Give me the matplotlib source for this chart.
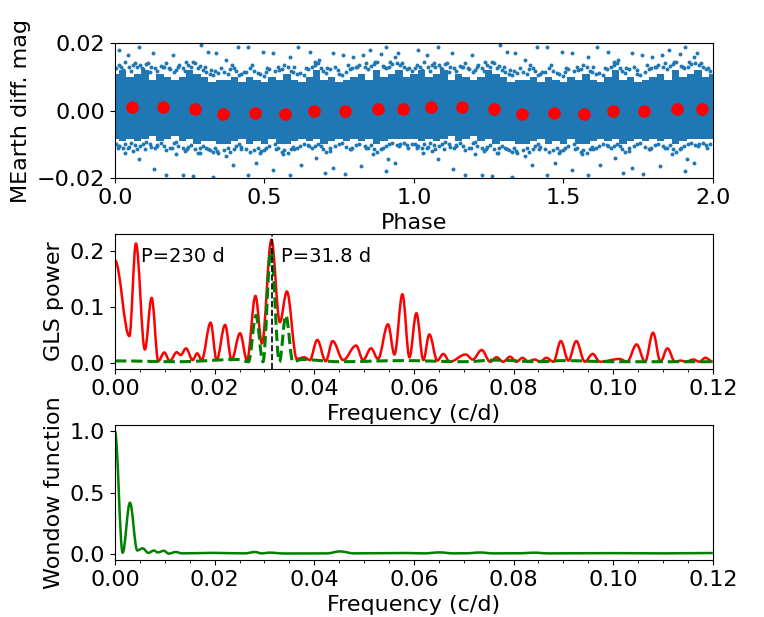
import matplotlib
matplotlib.use('Agg')
import matplotlib.pyplot as plt
from matplotlib.path import Path
from matplotlib.patches import PathPatch
from matplotlib.ticker import MultipleLocator

plt.rcParams['font.size'] = 16

# --- light curve (phase 0..1, repeated at phase+1) ---
env_phase = [0.0, 0.025, 0.05, 0.075, 0.1, 0.125, 0.15, 0.175, 0.2, 0.225,
             0.25, 0.275, 0.3, 0.325, 0.35, 0.375, 0.4, 0.425, 0.45, 0.475,
             0.5, 0.525, 0.55, 0.575, 0.6, 0.625, 0.65, 0.675, 0.7, 0.725,
             0.75, 0.775, 0.8, 0.825, 0.85, 0.875, 0.9, 0.925, 0.95, 0.975, 1.0]
env_hi = [0.011, 0.012, 0.010, 0.011, 0.012, 0.009, 0.011, 0.010, 0.009, 0.010,
          0.012, 0.011, 0.010, 0.0085, 0.009, 0.009, 0.010, 0.0085, 0.010, 0.009,
          0.0085, 0.010, 0.009, 0.011, 0.009, 0.0085, 0.010, 0.012, 0.009, 0.010,
          0.0085, 0.009, 0.010, 0.011, 0.009, 0.012, 0.010, 0.011, 0.012, 0.010, 0.011]
env_lo = [-0.0085, -0.009, -0.0085, -0.009, -0.0085, -0.0075, -0.009, -0.0085, -0.0075, -0.009,
          -0.0085, -0.010, -0.009, -0.009, -0.010, -0.010, -0.009, -0.0085, -0.010, -0.009,
          -0.010, -0.0085, -0.010, -0.010, -0.009, -0.0085, -0.009, -0.0085, -0.010, -0.009,
          -0.0085, -0.009, -0.0085, -0.009, -0.0085, -0.010, -0.009, -0.0085, -0.0085, -0.0085, -0.0085]

# sparse points well outside the dense band
out_phase = [0.080, 0.288, 0.411, 0.445, 0.612, 0.763, 0.829, 0.891, 0.908, 0.015,
             0.043, 0.127, 0.193, 0.238, 0.311, 0.339, 0.372, 0.495, 0.528, 0.584,
             0.651, 0.684, 0.729, 0.796, 0.852, 0.936, 0.947,
             0.009, 0.032, 0.082, 0.132, 0.171, 0.229, 0.261, 0.328, 0.394, 0.445,
             0.473, 0.528, 0.584, 0.623, 0.701, 0.729, 0.768, 0.824, 0.908, 0.936,
             0.060, 0.205, 0.283, 0.372, 0.562, 0.673, 0.863, 0.913,
             0.02, 0.06, 0.09, 0.11, 0.16, 0.18, 0.215, 0.26, 0.30, 0.32,
             0.355, 0.39, 0.43, 0.46, 0.51, 0.55, 0.60, 0.64, 0.67, 0.71,
             0.745, 0.78, 0.81, 0.84, 0.87, 0.90, 0.92, 0.96, 0.985,
             0.015, 0.045, 0.10, 0.14, 0.19, 0.24, 0.31, 0.34, 0.42, 0.49,
             0.54, 0.60, 0.65, 0.72, 0.79, 0.84, 0.89, 0.95, 0.98]
out_mag = [0.0188, 0.0195, 0.0188, 0.0188, 0.019, 0.0165, 0.0165, 0.0168, 0.019, 0.018,
           0.0165, 0.017, 0.0165, 0.0145, 0.0175, 0.017, 0.015, 0.0175, 0.0172, 0.016,
           0.0175, 0.015, 0.017, 0.016, 0.018, 0.016, 0.017,
           -0.011, -0.0125, -0.0145, -0.0172, -0.0192, -0.019, -0.0195, -0.0198, -0.016, -0.019,
           -0.0155, -0.0175, -0.019, -0.016, -0.0185, -0.017, -0.0188, -0.0165, -0.0178, -0.0155,
           -0.012, -0.013, -0.0125, -0.0135, -0.013, -0.014, -0.013, -0.0145,
           0.013, 0.0135, 0.0125, 0.014, 0.013, 0.0125, 0.0135, 0.0145, 0.013, 0.012,
           0.0125, 0.0135, 0.0115, 0.0135, 0.0125, 0.012, 0.013, 0.0125, 0.0145, 0.0125,
           0.012, 0.0135, 0.013, 0.014, 0.0145, 0.013, 0.0145, 0.014, 0.0125,
           -0.0105, -0.011, -0.0115, -0.0105, -0.011, -0.0115, -0.0115, -0.012, -0.0115, -0.012,
           -0.0115, -0.0115, -0.0105, -0.012, -0.0115, -0.011, -0.0115, -0.0105, -0.011]

# ragged points along the edges of the dense band
edge_phase = [0.005, 0.012, 0.028, 0.035, 0.048, 0.055, 0.068, 0.072, 0.085, 0.095,
              0.105, 0.118, 0.122, 0.135, 0.142, 0.155, 0.165, 0.172, 0.185, 0.198,
              0.205, 0.212, 0.228, 0.235, 0.245, 0.255, 0.268, 0.278, 0.285, 0.295,
              0.305, 0.318, 0.328, 0.335, 0.345, 0.365, 0.378, 0.385, 0.398, 0.405,
              0.415, 0.422, 0.438, 0.452, 0.465, 0.478, 0.485, 0.498, 0.505, 0.515,
              0.535, 0.545, 0.558, 0.565, 0.578, 0.588, 0.595, 0.608, 0.618, 0.632,
              0.645, 0.658, 0.668, 0.678, 0.688, 0.695, 0.705, 0.718, 0.735, 0.748,
              0.758, 0.772, 0.785, 0.792, 0.805, 0.818, 0.835, 0.848, 0.858, 0.868,
              0.878, 0.895, 0.905, 0.918, 0.928, 0.942, 0.955, 0.968, 0.978, 0.992]
edge_hi = [0.0125, 0.0135, 0.012, 0.0145, 0.013, 0.0118, 0.014, 0.0128, 0.0135, 0.0122,
           0.0138, 0.0115, 0.013, 0.0125, 0.0118, 0.0132, 0.0128, 0.014, 0.0122, 0.0115,
           0.012, 0.0128, 0.0125, 0.0118, 0.0135, 0.013, 0.0142, 0.0125, 0.0132, 0.012,
           0.0115, 0.011, 0.0105, 0.0118, 0.0112, 0.0115, 0.0108, 0.0122, 0.0125, 0.0118,
           0.0105, 0.011, 0.0115, 0.0125, 0.0118, 0.0112, 0.0108, 0.0102, 0.0115, 0.0122,
           0.0118, 0.0128, 0.0122, 0.0135, 0.013, 0.0118, 0.0115, 0.0108, 0.0112, 0.0105,
           0.0122, 0.0128, 0.0135, 0.014, 0.0125, 0.0118, 0.0112, 0.0122, 0.0128, 0.011,
           0.0105, 0.0115, 0.0122, 0.0125, 0.013, 0.0135, 0.0128, 0.0122, 0.0132, 0.0138,
           0.0145, 0.0132, 0.0125, 0.013, 0.0138, 0.0142, 0.0135, 0.0128, 0.0122, 0.0118]
edge_lo = [-0.0098, -0.0105, -0.0112, -0.01, -0.0108, -0.0095, -0.0102, -0.0115, -0.0105, -0.0098,
           -0.0092, -0.01, -0.0108, -0.0112, -0.0102, -0.0096, -0.0105, -0.0118, -0.011, -0.0095,
           -0.0092, -0.0105, -0.0112, -0.012, -0.0108, -0.0102, -0.0115, -0.0125, -0.0112, -0.0105,
           -0.011, -0.0118, -0.0122, -0.0112, -0.0125, -0.0118, -0.011, -0.0122, -0.0115, -0.0105,
           -0.01, -0.0108, -0.0115, -0.0122, -0.0118, -0.011, -0.0125, -0.0118, -0.0112, -0.0105,
           -0.0098, -0.0112, -0.0122, -0.0118, -0.0125, -0.0115, -0.0108, -0.0112, -0.0105, -0.0098,
           -0.0102, -0.0112, -0.0105, -0.0098, -0.0105, -0.0115, -0.0122, -0.0112, -0.0105, -0.0098,
           -0.0095, -0.0108, -0.0115, -0.011, -0.0102, -0.0098, -0.0105, -0.0112, -0.0102, -0.0115,
           -0.0122, -0.0112, -0.0105, -0.0098, -0.0095, -0.0102, -0.0098, -0.0095, -0.0102, -0.0098]

bin_phase = [0.058, 0.16, 0.268, 0.36, 0.468, 0.568, 0.665, 0.77, 0.88, 0.965]
bin_mag = [0.0011, 0.0011, 0.0004, -0.001, -0.0008, -0.001, -0.0002, -0.0002, 0.0006, 0.0005]

# --- GLS periodogram (peaks and troughs) ---
gls_f = [0, 0.00288, 0.00421, 0.0060, 0.00736, 0.0087, 0.0099, 0.011, 0.0124, 0.0132,
         0.01425, 0.0156, 0.0165, 0.0174, 0.0192, 0.0204, 0.0221, 0.0234, 0.0251, 0.0265,
         0.0282, 0.0295, 0.0314, 0.0331, 0.0345, 0.0365, 0.038, 0.0391, 0.0406, 0.0423,
         0.0437, 0.0458, 0.0484, 0.0498, 0.0514, 0.0528, 0.0548, 0.0561, 0.0577, 0.0591,
         0.0605, 0.0619, 0.0631, 0.0647, 0.0659, 0.0672, 0.0704, 0.0718, 0.0736, 0.0753,
         0.0766, 0.0779, 0.0793, 0.0806, 0.0818, 0.0829, 0.0843, 0.0853, 0.0866, 0.088,
         0.0895, 0.091, 0.0926, 0.0943, 0.0959, 0.0973, 0.1013, 0.1028, 0.1047, 0.1064,
         0.108, 0.1095, 0.1109, 0.1124, 0.1136, 0.1146, 0.1161, 0.1173, 0.1185, 0.12]
gls_p = [0.184, 0.048, 0.214, 0.024, 0.1165, 0.003, 0.0186, 0.003, 0.019, 0.014,
         0.026, 0.005, 0.017, 0.005, 0.072, 0.005, 0.068, 0.005, 0.053, 0.005,
         0.12, 0.035, 0.221, 0.073, 0.128, 0.007, 0.010, 0.005, 0.041, 0.003,
         0.039, 0.005, 0.031, 0.005, 0.026, 0.007, 0.069, 0.015, 0.123, 0.010,
         0.089, 0.005, 0.051, 0.004, 0.016, 0.002, 0.015, 0.006, 0.023, 0.002,
         0.010, 0.002, 0.011, 0.002, 0.009, 0.003, 0.006, 0.002, 0.009, 0.002,
         0.039, 0.004, 0.039, 0.002, 0.016, 0.002, 0.007, 0.002, 0.033, 0.002,
         0.054, 0.002, 0.026, 0.002, 0.004, 0.002, 0.006, 0.002, 0.009, 0.002]

gls2_f = [0, 0.0125, 0.0245, 0.0268, 0.0283, 0.0297, 0.0313, 0.033, 0.0343, 0.0357,
          0.0375, 0.045, 0.058, 0.07, 0.0765, 0.085, 0.09, 0.1, 0.12]
gls2_p = [0.0035, 0.002, 0.006, 0.002, 0.085, 0.002, 0.203, 0.002, 0.085, 0.002,
          0.006, 0.002, 0.004, 0.002, 0.005, 0.002, 0.004, 0.002, 0.002]

# --- window function ---
win_f = [0, 0.00154, 0.0030, 0.00448, 0.00555, 0.0067, 0.0078, 0.0086, 0.0098, 0.0108,
         0.0122, 0.0135, 0.0195, 0.026, 0.0281, 0.0295, 0.031, 0.034, 0.0425, 0.0452,
         0.048, 0.0585, 0.062, 0.0652, 0.068, 0.0705, 0.0733, 0.076, 0.0815, 0.084,
         0.087, 0.1, 0.11, 0.12]
win_p = [1.0, 0.01, 0.417, 0.028, 0.045, 0.008, 0.027, 0.012, 0.025, 0.002,
         0.015, 0.004, 0.008, 0.004, 0.015, 0.004, 0.01, 0.003, 0.004, 0.02,
         0.004, 0.007, 0.004, 0.012, 0.004, 0.005, 0.011, 0.004, 0.005, 0.01,
         0.004, 0.006, 0.004, 0.007]

f_peak = 1 / 31.8


def smooth_curve(ax, xs, ys, **kw):
    # join peaks/troughs with cubic bezier pieces (flat tangents at each point)
    verts = [(xs[0], ys[0])]
    codes = [Path.MOVETO]
    for i in range(len(xs) - 1):
        dx = xs[i + 1] - xs[i]
        verts += [(xs[i] + 0.36 * dx, ys[i]), (xs[i + 1] - 0.36 * dx, ys[i + 1]),
                  (xs[i + 1], ys[i + 1])]
        codes += [Path.CURVE4] * 3
    ax.add_patch(PathPatch(Path(verts, codes), fill=False, **kw))


fig = plt.figure(figsize=(7.64, 6.17), dpi=100)
ax1 = fig.add_axes([0.1505, 0.7115, 0.7825, 0.2185])
ax2 = fig.add_axes([0.1505, 0.402, 0.7825, 0.2185])
ax3 = fig.add_axes([0.1505, 0.0924, 0.7825, 0.2185])

blue = '#1f77b4'
for shift in [0, 1]:
    ph = [p + shift for p in env_phase]
    ax1.fill_between(ph, env_lo, env_hi, step='mid', color=blue, lw=0)
    ax1.scatter([p + shift for p in edge_phase], edge_hi, s=8, color=blue, lw=0)
    ax1.scatter([p + shift for p in edge_phase], edge_lo, s=8, color=blue, lw=0)
    ax1.scatter([p + shift for p in out_phase], out_mag, s=8, color=blue, lw=0)
    ax1.plot([p + shift for p in bin_phase], bin_mag, 'o', color='red', ms=8)
ax1.set_xlim(0, 2)
ax1.set_ylim(-0.02, 0.02)
ax1.set_yticks([-0.02, 0.0, 0.02])
ax1.set_xticks([0, 0.5, 1.0, 1.5, 2.0])
ax1.set_xlabel('Phase')
ax1.set_ylabel('MEarth diff. mag')

smooth_curve(ax2, gls_f, gls_p, ec='red', lw=1.8)
smooth_curve(ax2, gls2_f, gls2_p, ec='green', lw=2.2, ls='--')
ax2.axvline(f_peak, color='black', ls='--', lw=1.2)
ax2.text(0.0052, 0.19, 'P=230 d', va='center', fontsize=14)
ax2.text(0.0333, 0.19, 'P=31.8 d', va='center', fontsize=14)
ax2.set_xlim(0, 0.12)
ax2.set_ylim(-0.011, 0.231)
ax2.set_yticks([0.0, 0.1, 0.2])
ax2.xaxis.set_minor_locator(MultipleLocator(0.005))
ax2.set_xlabel('Frequency (c/d)')
ax2.set_ylabel('GLS power')

smooth_curve(ax3, win_f, win_p, ec='green', lw=1.8)
ax3.set_xlim(0, 0.12)
ax3.set_ylim(-0.05, 1.05)
ax3.set_yticks([0.0, 0.5, 1.0])
ax3.xaxis.set_minor_locator(MultipleLocator(0.005))
ax3.set_xlabel('Frequency (c/d)')
ax3.set_ylabel('Wondow function')

fig.savefig('out.png', dpi=100)
